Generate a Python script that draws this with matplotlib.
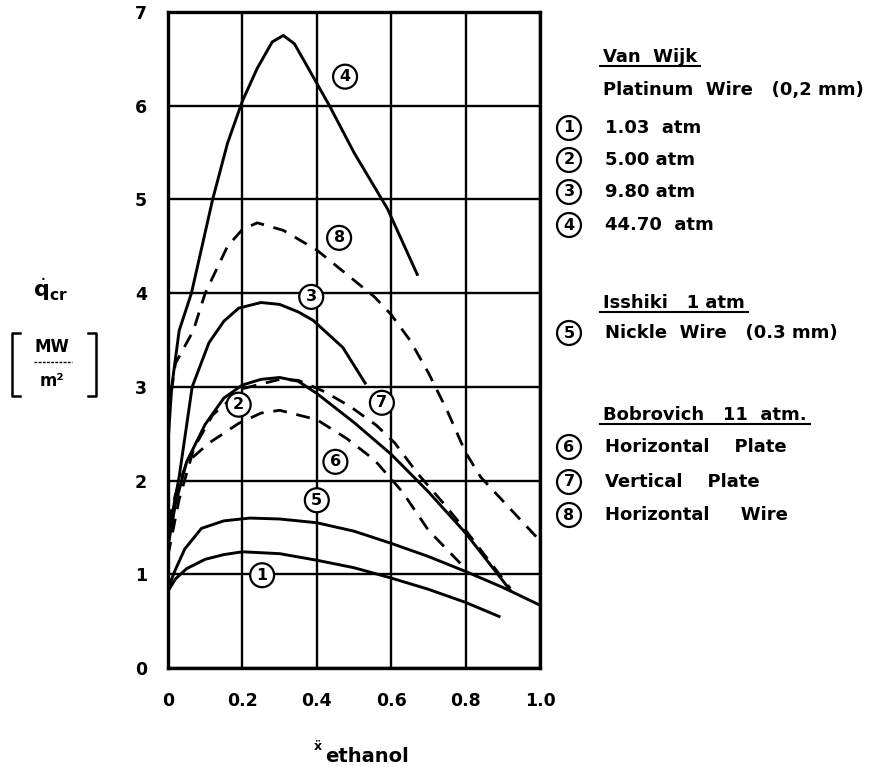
import matplotlib.pyplot as plt
from matplotlib.lines import Line2D

plt.rcParams['font.family'] = ['DejaVu Sans']

# axis ticks
x_ticks = [0, 0.2, 0.4, 0.6, 0.8, 1.0]
x_tick_labels = ['0', '0.2', '0.4', '0.6', '0.8', '1.0']
y_ticks = [0, 1, 2, 3, 4, 5, 6, 7]

# critical heat flux curves, q_cr [MW/m2] vs ethanol fraction
x1 = [0, 0.02, 0.05, 0.1, 0.15, 0.2, 0.3, 0.4, 0.5, 0.6, 0.7, 0.8, 0.89]
q1 = [0.82, 0.95, 1.06, 1.16, 1.21, 1.24, 1.22, 1.15, 1.07, 0.96, 0.84, 0.70, 0.55]

x2 = [0, 0.02, 0.05, 0.1, 0.15, 0.2, 0.25, 0.3, 0.35, 0.4, 0.5, 0.6, 0.7, 0.8, 0.92]
q2 = [1.3, 1.75, 2.2, 2.6, 2.88, 3.02, 3.08, 3.1, 3.06, 2.93, 2.62, 2.28, 1.88, 1.44, 0.83]

x3 = [0, 0.03, 0.065, 0.11, 0.15, 0.19, 0.25, 0.3, 0.35, 0.39, 0.47, 0.53]
q3 = [1.4, 2.04, 3.0, 3.47, 3.7, 3.84, 3.9, 3.88, 3.8, 3.71, 3.42, 3.04]

x4 = [0, 0.01, 0.03, 0.063, 0.12, 0.16, 0.2, 0.24, 0.28, 0.31, 0.34, 0.38, 0.434, 0.5, 0.59, 0.67]
q4 = [2.4, 3.0, 3.6, 4.0, 5.0, 5.6, 6.05, 6.4, 6.68, 6.75, 6.66, 6.38, 6.0, 5.5, 4.9, 4.2]

x5 = [0, 0.02, 0.045, 0.09, 0.15, 0.22, 0.3, 0.4, 0.5, 0.6, 0.7, 0.8, 0.9, 1.0]
q5 = [0.85, 1.05, 1.27, 1.49, 1.57, 1.60, 1.59, 1.55, 1.46, 1.33, 1.19, 1.03, 0.86, 0.67]

x6 = [0, 0.02, 0.05, 0.11, 0.19, 0.25, 0.3, 0.4, 0.48, 0.555, 0.63, 0.7, 0.785, 0.8]
q6 = [1.55, 1.85, 2.19, 2.40, 2.61, 2.72, 2.75, 2.65, 2.45, 2.22, 1.88, 1.47, 1.12, 1.04]

x7 = [0, 0.03, 0.07, 0.12, 0.2, 0.3, 0.35, 0.42, 0.49, 0.56, 0.61, 0.67, 0.74, 0.8, 0.92]
q7 = [1.2, 1.8, 2.35, 2.7, 2.98, 3.08, 3.07, 2.95, 2.79, 2.59, 2.40, 2.08, 1.76, 1.47, 0.85]

x8 = [0, 0.02, 0.068, 0.10, 0.16, 0.2, 0.24, 0.31, 0.40, 0.49, 0.555, 0.6, 0.65, 0.7, 0.75, 0.8, 0.84, 0.915, 0.99]
q8 = [2.7, 3.25, 3.6, 4.0, 4.5, 4.68, 4.75, 4.67, 4.46, 4.17, 3.96, 3.77, 3.5, 3.15, 2.75, 2.3, 2.04, 1.72, 1.40]

curves = [(x1, q1, '-'), (x2, q2, '-'), (x3, q3, '-'), (x4, q4, '-'),
          (x5, q5, '-'), (x6, q6, '--'), (x7, q7, '--'), (x8, q8, '--')]

# circled curve numbers inside the plot
label_nums = ['1', '2', '3', '4', '5', '6', '7', '8']
label_x = [0.253, 0.19, 0.385, 0.476, 0.40, 0.45, 0.575, 0.46]
label_y = [0.99, 2.81, 3.96, 6.31, 1.79, 2.2, 2.83, 4.59]

# legend block on the right
legend_groups = [
    ('Van  Wijk', 'Platinum  Wire   (0,2 mm)',
     [('1', '1.03  atm'), ('2', '5.00 atm'), ('3', '9.80 atm'), ('4', '44.70  atm')]),
    ('Isshiki   1 atm', None, [('5', 'Nickle  Wire   (0.3 mm)')]),
    ('Bobrovich   11  atm.', None,
     [('6', 'Horizontal    Plate'), ('7', 'Vertical    Plate'), ('8', 'Horizontal     Wire')]),
]

W, H = 869, 767
fig = plt.figure(figsize=(W / 100, H / 100), dpi=100)
ax = fig.add_axes([168 / W, 1 - 668 / H, 372 / W, 656 / H])

for xs, qs, ls in curves:
    if ls == '--':
        ax.plot(xs, qs, color='black', lw=2.0, ls=(0, (5, 3.5)), zorder=3)
    else:
        ax.plot(xs, qs, color='black', lw=2.1, zorder=3)

circle = dict(boxstyle='circle,pad=0.28', fc='white', ec='black', lw=1.6)
for n, lx, ly in zip(label_nums, label_x, label_y):
    ax.text(lx, ly, n, ha='center', va='center', fontsize=11.5, fontweight='bold',
            bbox=circle, zorder=5)

ax.set_xlim(0, 1)
ax.set_ylim(0, 7)
ax.set_xticks(x_ticks, x_tick_labels)
ax.set_yticks(y_ticks)
ax.tick_params(length=0, labelsize=12.5)
ax.tick_params(axis='x', pad=17)
ax.tick_params(axis='y', pad=15)
for t in ax.get_xticklabels() + ax.get_yticklabels():
    t.set_fontweight('bold')
ax.grid(True, color='black', lw=1.7)
ax.set_axisbelow(True)
for s in ax.spines.values():
    s.set_linewidth(2.4)

# y axis label: q_cr over a bracketed MW/m2 unit
fig.text(50 / W, 1 - 290 / H, r'$\dot{\mathbf{q}}_{\mathbf{cr}}$', fontsize=16,
         ha='center', va='center')
fig.text(52 / W, 1 - 347 / H, 'MW', fontsize=12, fontweight='bold',
         ha='center', va='center')
fig.text(52 / W, 1 - 381 / H, 'm\u00b2', fontsize=12, fontweight='bold',
         ha='center', va='center')
fig.add_artist(Line2D([34 / W, 72 / W], [1 - 362 / H, 1 - 362 / H],
                      color='black', lw=1.0, ls=(0, (2, 1))))
for xb, xs in [(12, 20), (96, 88)]:
    fig.add_artist(Line2D([xs / W, xb / W, xb / W, xs / W],
                          [1 - 333 / H, 1 - 333 / H, 1 - 396 / H, 1 - 396 / H],
                          color='black', lw=1.8))

# x axis label
fig.text(318 / W, 1 - 747 / H, '\u1e8d', fontsize=9, ha='center', va='center',
         fontweight='bold')
fig.text(325 / W, 1 - 756 / H, 'ethanol', fontsize=14, ha='left', va='center',
         fontweight='bold')

# legend text
rows = [(57, 'head'), (90, 'sub'), (128, 0), (160, 1), (192, 2), (225, 3),
        (303, 'head'), (333, 0), (415, 'head'), (447, 0), (482, 1), (515, 2)]
heads = [g[0] for g in legend_groups]
g_idx = -1
for py, kind in rows:
    if kind == 'head':
        g_idx += 1
        t = fig.text(603 / W, 1 - py / H, heads[g_idx], fontsize=13,
                     fontweight='bold', va='center', ha='left')
        fig.canvas.draw()
        bb = t.get_window_extent()
        fig.add_artist(Line2D([600 / W, (bb.x1 + 3) / W],
                              [1 - (py + 9) / H, 1 - (py + 9) / H],
                              color='black', lw=1.5))
    elif kind == 'sub':
        fig.text(603 / W, 1 - py / H, legend_groups[g_idx][1], fontsize=13,
                 fontweight='bold', va='center', ha='left')
    else:
        num, label = legend_groups[g_idx][2][kind]
        fig.text(569 / W, 1 - py / H, num, fontsize=11.5, fontweight='bold',
                 ha='center', va='center', bbox=circle)
        fig.text(605 / W, 1 - py / H, label, fontsize=13, fontweight='bold',
                 va='center', ha='left')

fig.savefig('out.png', dpi=100, facecolor='white')
